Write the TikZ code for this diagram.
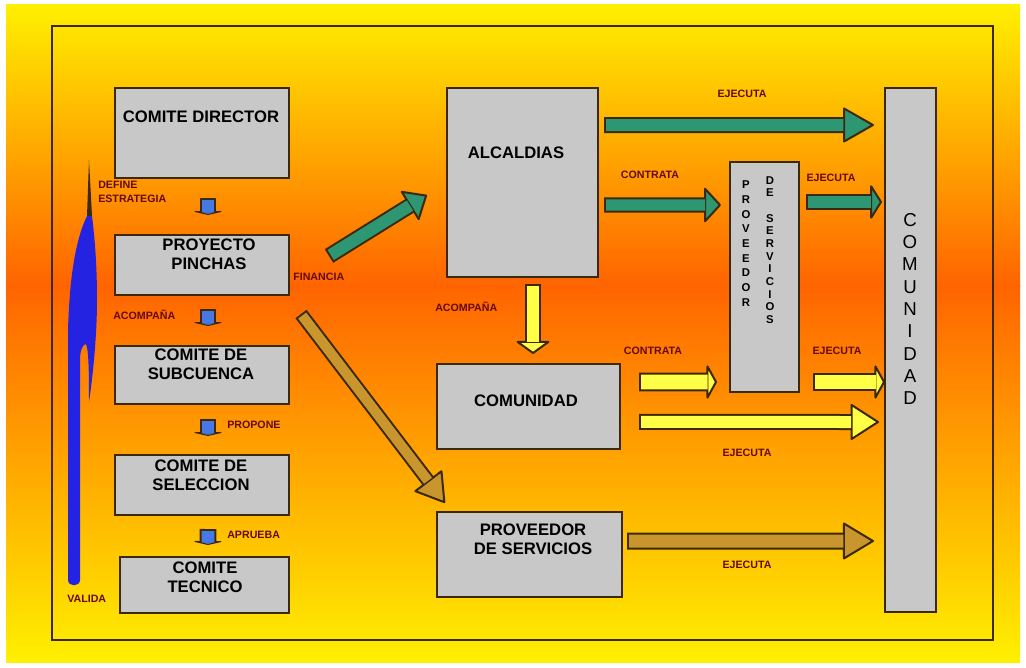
\documentclass[tikz,border=0pt]{standalone}
\usepackage{fontspec}
\setmainfont{Liberation Sans}
\usetikzlibrary{arrows.meta}
\usetikzlibrary{fit}

\definecolor{bgyel}{RGB}{255,240,0}
\definecolor{bgor}{RGB}{255,100,0}
\definecolor{boxgray}{RGB}{200,200,200}
\definecolor{dline}{RGB}{60,40,10}
\definecolor{agreen}{RGB}{45,150,115}
\definecolor{ayellow}{RGB}{255,255,70}
\definecolor{abrown}{RGB}{200,150,45}
\definecolor{ablue}{RGB}{70,120,230}
\definecolor{vblue}{RGB}{35,35,225}
\definecolor{lblred}{RGB}{100,10,10}

\tikzset{
  box/.style={draw=dline, line width=1.5pt, fill=boxgray, inner sep=0pt},
  boxtxt/.style={font=\bfseries\fontsize{12.5}{14}\selectfont, align=center, inner sep=0pt},
  lbl/.style={font=\bfseries\fontsize{8}{10}\selectfont, text=lblred, inner sep=0pt},
  fatarr/.style n args={5}{draw=dline, line width=#2,
    -{Triangle[round, fill=#1, line width=1.5pt, width=#4, length=#5]},
    postaction={draw=#1, line width=#3, -, shorten <=1.5pt, shorten >=#5-1pt}},
}

\begin{document}
\begin{tikzpicture}[x=0.75pt, y=-0.75pt]
\useasboundingbox (0,0) rectangle (1026,668);
\fill[white] (0,0) rectangle (1026,668);
\shade[top color=bgyel, bottom color=bgor] (6,4) rectangle (1020,286); % 배경 위
\shade[top color=bgor, bottom color=bgyel] (6,285) rectangle (1020,662); % 배경 아래
\draw[dline, line width=1.5pt] (52,26) rectangle (993,640); % 테두리

%% VALIDA
\fill[dline] (89,160) -- (92,216) -- (87,216) -- cycle;
\fill[vblue] (87,216) .. controls (78,235) and (70,265) .. (68,330) -- (68,580)
  .. controls (68,587) and (80,587) .. (80,580) -- (80,360)
  .. controls (80,350) and (83,344) .. (86,344)
  .. controls (89,350) and (89,380) .. (89,402)
  .. controls (93,375) and (97,335) .. (97,300)
  .. controls (97,260) and (94,232) .. (92,216) -- cycle;

%% 상자
\node[box, fit={(115,88) (289,178)}] (dir) {};
\node[box, fit={(115,235) (289,295)}] (proy) {};
\node[box, fit={(115,346) (289,404)}] (subc) {};
\node[box, fit={(115,455) (289,515)}] (sel) {};
\node[box, fit={(120,557) (289,613)}] (tec) {};
\node[box, fit={(447,88) (598,277)}] (alc) {};
\node[box, fit={(437,364) (620,449)}] (comb) {};
\node[box, fit={(437,512) (622,597)}] (prov) {};
\node[box, fit={(730,162) (799,392)}] (provv) {};
\node[box, fit={(885,88) (936,612)}] (com) {};

\node[boxtxt] (dirT) at (201,117) {COMITE DIRECTOR};
\node[boxtxt] (proyT) at (209,254) {PROYECTO\\PINCHAS};
\node[boxtxt] (subcT) at (201,364) {COMITE DE\\SUBCUENCA};
\node[boxtxt] (selT) at (201,475) {COMITE DE\\SELECCION};
\node[boxtxt] (tecT) at (205,577) {COMITE\\TECNICO};
\node[boxtxt] (alcT) at (516,153) {ALCALDIAS};
\node[boxtxt] (combT) at (526,401) {COMUNIDAD};
\node[boxtxt] (provT) at (533,539) {PROVEEDOR\\DE SERVICIOS};
\node[font=\bfseries\fontsize{8.5}{11}\selectfont, align=center, inner sep=0pt] (provvA) at (746,243.5)
  {P\\R\\O\\V\\E\\E\\D\\O\\R};
\node[font=\bfseries\fontsize{8.5}{9.5}\selectfont, align=center, inner sep=0pt] (provvB) at (770,250)
  {D\\E\\[9.5pt]S\\E\\R\\V\\I\\C\\I\\O\\S};
\node[font=\fontsize{14}{16.7}\selectfont, align=center, inner sep=0pt] (comT) at (910,309)
  {C\\O\\M\\U\\N\\I\\D\\A\\D};

%% 화살표
\foreach \a/\b/\s/\e/\x in {dir/proy/14.25/14.25/4.5, proy/subc/9.75/14.25/4.5,
    subc/sel/10.5/13.5/4.5, sel/tec/9.75/8.25/2.6}
  \draw[fatarr={ablue}{12.5pt}{9.5pt}{26pt}{3pt}]
    ([xshift=4.5pt, yshift=-\s*1pt]\a.south) -- ([xshift=\x*1pt, yshift=\e*1pt]\b.north);

\draw[fatarr={agreen}{12pt}{9pt}{27pt}{16pt}] ([xshift=29.25pt, yshift=6.75pt]proy.east) -- ([xshift=-14.25pt, yshift=-9.4pt]alc.west);
\draw[fatarr={abrown}{10.5pt}{7.5pt}{27pt}{22pt}] ([xshift=8.25pt, yshift=-13.5pt]proy.south east) -- ([xshift=6.75pt, yshift=6pt]prov.north west);
\draw[fatarr={agreen}{12pt}{9pt}{27pt}{24pt}] ([xshift=3.75pt, yshift=43.1pt]alc.east) -- ([xshift=-7.5pt, yshift=168.75pt]com.west);
\draw[fatarr={agreen}{11.5pt}{8.5pt}{28pt}{13pt}] ([xshift=3.75pt, yshift=-16.9pt]alc.east) -- ([xshift=-6pt, yshift=54pt]provv.west);
\draw[fatarr={agreen}{12.5pt}{9.5pt}{28.5pt}{9pt}] ([xshift=4.5pt, yshift=56.25pt]provv.east) -- ([xshift=-1.5pt, yshift=111pt]com.west);
\draw[fatarr={ayellow}{12pt}{9pt}{27.5pt}{10pt}] ([xshift=7.9pt, yshift=-4.5pt]alc.south) -- ([xshift=3.4pt, yshift=6.75pt]comb.north);
\draw[fatarr={ayellow}{14pt}{11pt}{29pt}{8pt}] ([xshift=13.5pt, yshift=18.4pt]comb.east) -- ([xshift=-9pt, yshift=-78.75pt]provv.west);
\draw[fatarr={ayellow}{14pt}{11pt}{29pt}{8pt}] ([xshift=9.75pt, yshift=-78.75pt]provv.east) -- ([xshift=0.75pt, yshift=-24pt]com.west);
\draw[fatarr={ayellow}{12pt}{9pt}{28pt}{22pt}] ([xshift=13.5pt, yshift=-11.6pt]comb.east) -- ([xshift=-3.75pt, yshift=-54pt]com.west);
\draw[fatarr={abrown}{12.75pt}{9.75pt}{28.5pt}{24pt}] ([xshift=3pt, yshift=10.1pt]prov.east) -- ([xshift=-7.5pt, yshift=-143.25pt]com.west);

%% 라벨
\node[lbl, align=left, anchor=west] (lDef) at (98,192) {DEFINE\\ESTRATEGIA};
\node[lbl, anchor=west] (lAco1) at (113,315) {ACOMPAÑA};
\node[lbl, anchor=west] (lFin) at (293,277) {FINANCIA};
\node[lbl, anchor=west] (lPro) at (227,425) {PROPONE};
\node[lbl, anchor=west] (lApr) at (227,535) {APRUEBA};
\node[lbl, anchor=west] (lVal) at (67,599) {VALIDA};
\node[lbl, anchor=west] (lAco2) at (435,307) {ACOMPAÑA};
\node[lbl] (lCon1) at (650,175) {CONTRATA};
\node[lbl] (lCon2) at (653,351) {CONTRATA};
\node[lbl] (lEje1) at (742,94) {EJECUTA};
\node[lbl] (lEje2) at (831,178) {EJECUTA};
\node[lbl] (lEje3) at (837,351) {EJECUTA};
\node[lbl] (lEje4) at (747,453) {EJECUTA};
\node[lbl] (lEje5) at (747,565) {EJECUTA};
\end{tikzpicture}
\end{document}
